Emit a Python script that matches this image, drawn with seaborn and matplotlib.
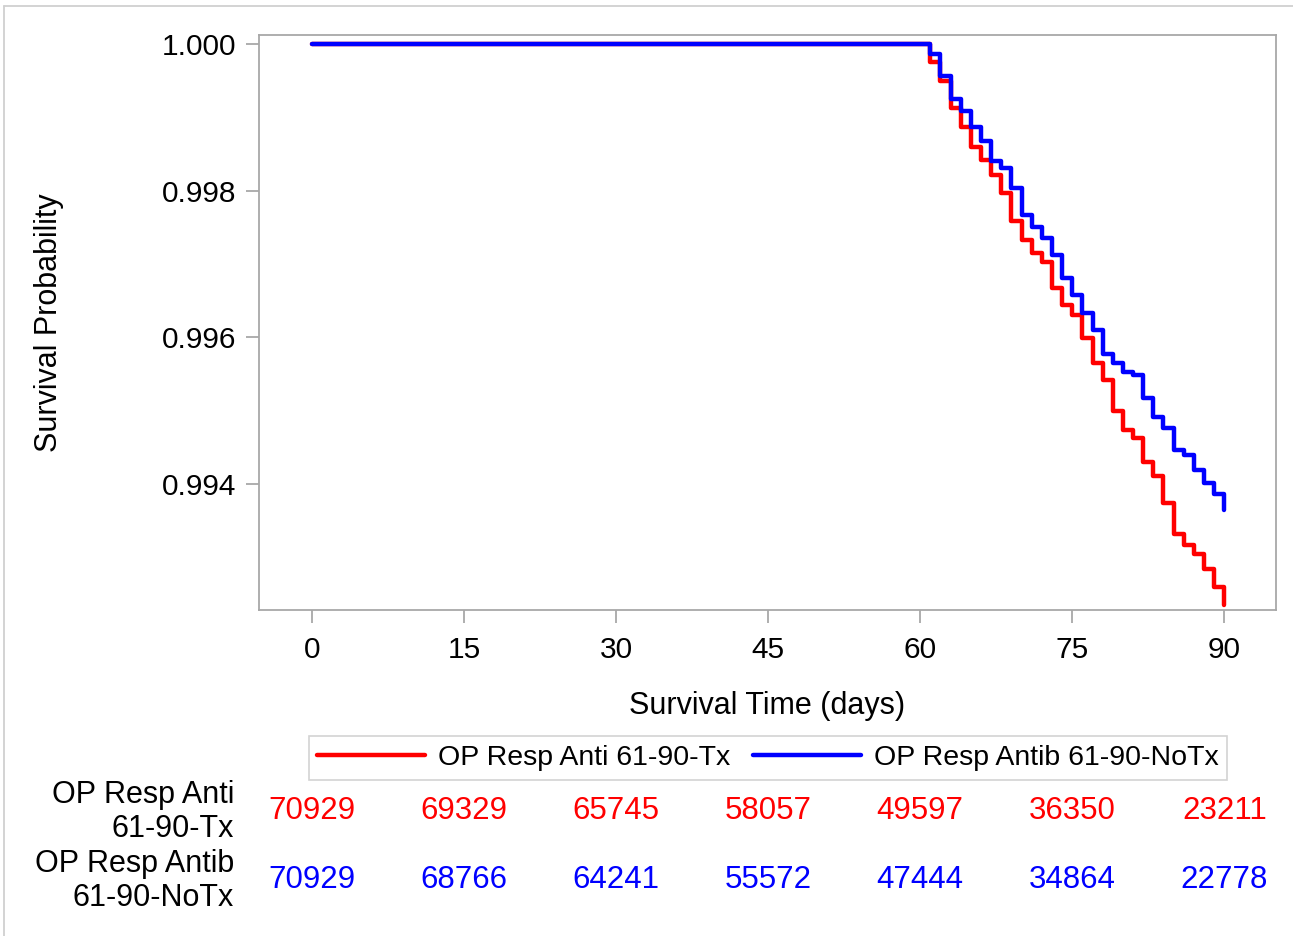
import numpy as np
import pandas as pd
import matplotlib
matplotlib.use("Agg")
import matplotlib.pyplot as plt
import seaborn as sns
from matplotlib.lines import Line2D
from matplotlib.transforms import blended_transform_factory

# ---- data ----
groups = ["OP Resp Anti 61-90-Tx", "OP Resp Antib 61-90-NoTx"]
row_labels = ["OP Resp Anti\n61-90-Tx", "OP Resp Antib\n61-90-NoTx"]
colors = ["#FF0000", "#0000FF"]

days = [0] + list(range(61, 91))
surv_tx = [1.0,
           0.99976, 0.99949, 0.99913, 0.99887, 0.99860, 0.99842, 0.99821, 0.99797,
           0.99758, 0.99733, 0.99715, 0.99703, 0.99667, 0.99644, 0.99630, 0.99599,
           0.99565, 0.99542, 0.99499, 0.99474, 0.99463, 0.99430, 0.99411, 0.99374,
           0.99332, 0.99317, 0.99305, 0.99284, 0.99260, 0.99235]
surv_notx = [1.0,
             0.99987, 0.99957, 0.99925, 0.99908, 0.99887, 0.99868, 0.99840, 0.99831,
             0.99804, 0.99767, 0.99751, 0.99735, 0.99712, 0.99681, 0.99658, 0.99633,
             0.99610, 0.99577, 0.99565, 0.99553, 0.99549, 0.99517, 0.99492, 0.99476,
             0.99446, 0.99440, 0.99419, 0.99402, 0.99386, 0.99365]

risk_times = [0, 15, 30, 45, 60, 75, 90]
risk_tx = [70929, 69329, 65745, 58057, 49597, 36350, 23211]
risk_notx = [70929, 68766, 64241, 55572, 47444, 34864, 22778]

x_ticks = [0, 15, 30, 45, 60, 75, 90]
y_ticks = [0.994, 0.996, 0.998, 1.000]

df = pd.concat([
    pd.DataFrame({"time": days, "surv": surv_tx, "group": groups[0]}),
    pd.DataFrame({"time": days, "surv": surv_notx, "group": groups[1]}),
], ignore_index=True)

# ---- style ----
sns.set_style("white")
plt.rcParams["font.family"] = ["Liberation Sans", "DejaVu Sans"]
plt.rcParams["text.color"] = "black"
plt.rcParams["axes.labelcolor"] = "black"

W, H = 1293, 936
fig = plt.figure(figsize=(W / 100, H / 100), dpi=100)
ax = fig.add_axes([259 / W, 1 - 610 / H, (1276 - 259) / W, (610 - 35) / H])

sns.lineplot(data=df, x="time", y="surv", hue="group", hue_order=groups,
             palette=colors, drawstyle="steps-post", estimator=None,
             linewidth=3.2, legend=False, ax=ax)

ax.set_xlim(-5.23, 95.1)
ax.set_ylim(0.992282, 1.000123)
ax.set_xticks(x_ticks)
ax.set_xticklabels([str(t) for t in x_ticks])
ax.set_yticks(y_ticks)
ax.set_yticklabels([f"{v:.3f}" for v in y_ticks])

frame_col = "#A8A8A8"
for s in ax.spines.values():
    s.set_color(frame_col)
    s.set_linewidth(1.3)
    s.set_visible(True)
ax.tick_params(axis="both", which="major", direction="out", length=9.5,
               width=1.3, color=frame_col, labelsize=21.5, labelcolor="black",
               bottom=True, left=True)
ax.tick_params(axis="x", pad=9)
ax.tick_params(axis="y", pad=7)

ax.set_xlabel("Survival Time (days)", fontsize=22, color="black")
ax.set_ylabel("Survival Probability", fontsize=22, color="black")
ax.yaxis.set_label_coords(-0.192, 0.5)
ax.xaxis.set_label_coords(0.5, -0.141)

# legend
handles = [Line2D([], [], color=c, lw=3.2) for c in colors]
leg = fig.legend(handles, groups, loc="center", ncol=2,
                 bbox_to_anchor=(768 / W, 1 - 758 / H), fontsize=20.5,
                 frameon=True, fancybox=False, handlelength=3.8,
                 handletextpad=0.45, columnspacing=0.8, borderpad=0.3)
leg.get_frame().set_edgecolor("#C8C8C8")
leg.get_frame().set_linewidth(1.2)
for t in leg.get_texts():
    t.set_color("black")

# at-risk table
trans = blended_transform_factory(ax.transData, fig.transFigure)
for ry, vals, col, lab in [(1 - 811 / H, risk_tx, colors[0], row_labels[0]),
                           (1 - 880 / H, risk_notx, colors[1], row_labels[1])]:
    for t, v in zip(risk_times, vals):
        ax.text(t, ry, str(v), transform=trans, ha="center", va="center",
                color=col, fontsize=22.5, clip_on=False)
    fig.text(234 / W, ry - 1 / H, lab, ha="right", va="center",
             fontsize=22, color="black", linespacing=1.2)

# outer figure border (top and left)
fig.add_artist(Line2D([4 / W, 1.0], [1 - 6 / H, 1 - 6 / H],
                      transform=fig.transFigure, color="#D0D0D0", lw=1.3))
fig.add_artist(Line2D([4 / W, 4 / W], [0.0, 1 - 6 / H],
                      transform=fig.transFigure, color="#D0D0D0", lw=1.3))

fig.savefig("out.png", dpi=100)
